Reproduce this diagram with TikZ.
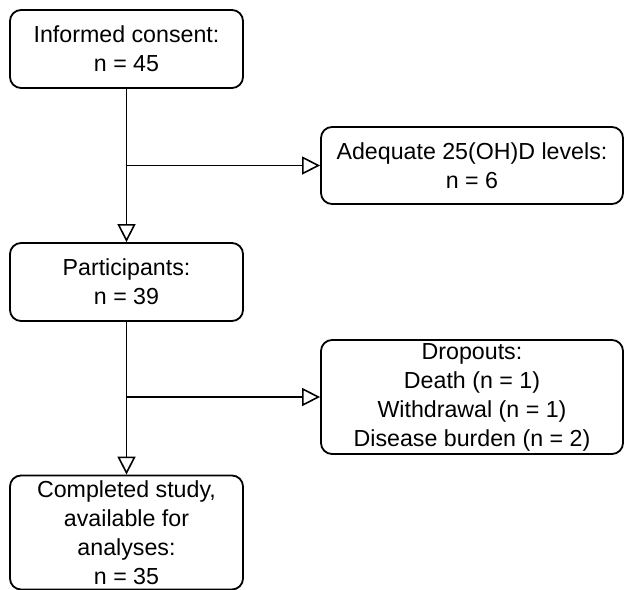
\documentclass[tikz,border=0pt]{standalone}
\usepackage{fontspec}
\setmainfont{Liberation Sans}
\usetikzlibrary{arrows.meta}
\begin{document}
\begin{tikzpicture}[x=1pt,y=1pt,
  box/.style={draw=black, line width=1.8pt, rounded corners=11pt, fill=white,
    align=center, inner sep=0pt, font=\fontsize{23.2}{29}\selectfont},
  flow/.style={draw=black, line width=1.8pt, -{Triangle[open, length=18pt, width=18pt, line width=1.6pt]}}]
\useasboundingbox (0,0) rectangle (625,-590);
\node[box, minimum width=233pt, minimum height=78pt] (b1) at (126.5,-49) {Informed consent:\\n = 45};
\node[box, minimum width=302pt, minimum height=77pt] (b2) at (472,-165.5) {Adequate 25(OH)D levels:\\n = 6};
\node[box, minimum width=233pt, minimum height=78pt] (b3) at (126.5,-282) {Participants:\\n = 39};
\node[box, minimum width=302pt, minimum height=114pt] (b4) at (472,-397) {Dropouts:\\Death (n = 1)\\Withdrawal (n = 1)\\Disease burden (n = 2)};
\node[box, minimum width=233pt, minimum height=114pt] (b5) at (126.5,-532.5) {Completed study,\\available for\\analyses:\\n = 35};
\coordinate (j1) at (126.5,-165.5);
\coordinate (j2) at (126.5,-397);
\draw[flow] (b1.south) -- (b3.north);
\draw[flow] (j1) -- (b2.west);
\draw[flow] (b3.south) -- (b5.north);
\draw[flow] (j2) -- (b4.west);
\end{tikzpicture}
\end{document}
